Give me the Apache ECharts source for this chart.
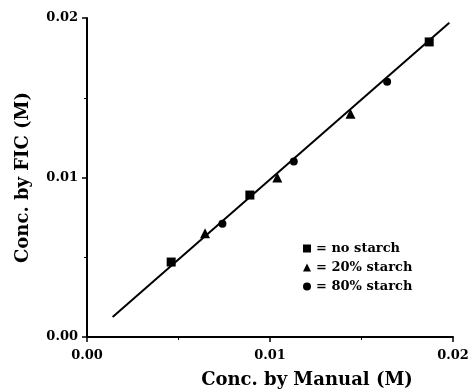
<!DOCTYPE html>
<html>
<head>
<meta charset="utf-8">
<script src="https://cdn.jsdelivr.net/npm/echarts@6/dist/echarts.min.js"></script>
<style>
  html, body { margin: 0; padding: 0; background: #fff; }
  #chart { width: 471px; height: 391px; }
</style>
</head>
<body>
<div id="chart"></div>
<script>
// Concentrations measured manually (x) vs. by FIC (y), in M
const noStarchX = [0.0046, 0.0089, 0.0187];
const noStarchY = [0.0047, 0.0089, 0.0185];
const starch20X = [0.00645, 0.0104, 0.0144];
const starch20Y = [0.0065, 0.0100, 0.0140];
const starch80X = [0.0074, 0.0113, 0.0164];
const starch80Y = [0.0071, 0.0110, 0.0160];

// Fitted regression line endpoints
const fitX = [0.0014, 0.0198];
const fitY = [0.00125, 0.0197];

const seriesNames = ['no starch', '20% starch', '80% starch'];
const tickValues = [0, 0.01, 0.02];

const pairs = (xs, ys) => xs.map((x, i) => [x, ys[i]]);
const serif = 'DejaVu Serif';

const axisCommon = {
  type: 'value',
  min: tickValues[0],
  max: tickValues[tickValues.length - 1],
  interval: tickValues[1] - tickValues[0],
  splitLine: { show: false },
  axisLine: { show: true, onZero: false, lineStyle: { color: '#000', width: 2 } },
  axisTick: { show: true, length: 5, lineStyle: { color: '#000', width: 1.5 } },
  minorTick: { show: true, splitNumber: 2, length: 3, lineStyle: { color: '#000', width: 1 } },
  nameTextStyle: { fontFamily: serif, fontWeight: 'bold', fontSize: 18, color: '#000' },
  axisLabel: {
    fontFamily: serif, fontWeight: 'bold', fontSize: 13, color: '#000',
    formatter: v => v.toFixed(2)
  }
};

const chart = echarts.init(document.getElementById('chart'), null, { renderer: 'canvas' });
chart.setOption({
  animation: false,
  backgroundColor: '#fff',
  grid: { left: 87, right: 18, top: 18, bottom: 54, containLabel: false, outerBoundsMode: 'none' },
  xAxis: Object.assign({}, axisCommon, {
    name: 'Conc. by Manual (M)',
    nameLocation: 'middle',
    nameGap: 34,
    // title sits right of the axis centre
    nameTextStyle: Object.assign({}, axisCommon.nameTextStyle, { padding: [0, 0, 0, 74] }),
    axisLabel: Object.assign({}, axisCommon.axisLabel, { margin: 12 })
  }),
  yAxis: Object.assign({}, axisCommon, {
    name: 'Conc. by FIC (M)',
    nameLocation: 'middle',
    nameGap: 55,
    axisLabel: Object.assign({}, axisCommon.axisLabel, { margin: 9 })
  }),
  legend: {
    orient: 'vertical',
    left: 298,
    top: 237,
    itemWidth: 8,
    itemHeight: 8,
    itemGap: 6,
    data: [
      { name: seriesNames[0], icon: 'rect' },
      { name: seriesNames[1], icon: 'triangle' },
      { name: seriesNames[2], icon: 'circle' }
    ],
    formatter: n => '= ' + n,
    textStyle: { fontFamily: serif, fontWeight: 'bold', fontSize: 13, lineHeight: 13, color: '#000' }
  },
  series: [
    {
      type: 'line',
      data: pairs(fitX, fitY),
      showSymbol: false,
      lineStyle: { color: '#000', width: 2 },
      silent: true,
      z: 1
    },
    {
      name: seriesNames[0], type: 'scatter', symbol: 'rect', symbolSize: 9,
      data: pairs(noStarchX, noStarchY), itemStyle: { color: '#000', opacity: 1 }, z: 3
    },
    {
      name: seriesNames[1], type: 'scatter', symbol: 'triangle', symbolSize: 10,
      data: pairs(starch20X, starch20Y), itemStyle: { color: '#000', opacity: 1 }, z: 3
    },
    {
      name: seriesNames[2], type: 'scatter', symbol: 'circle', symbolSize: 8,
      data: pairs(starch80X, starch80Y), itemStyle: { color: '#000', opacity: 1 }, z: 3
    }
  ]
});
</script>
</body>
</html>
